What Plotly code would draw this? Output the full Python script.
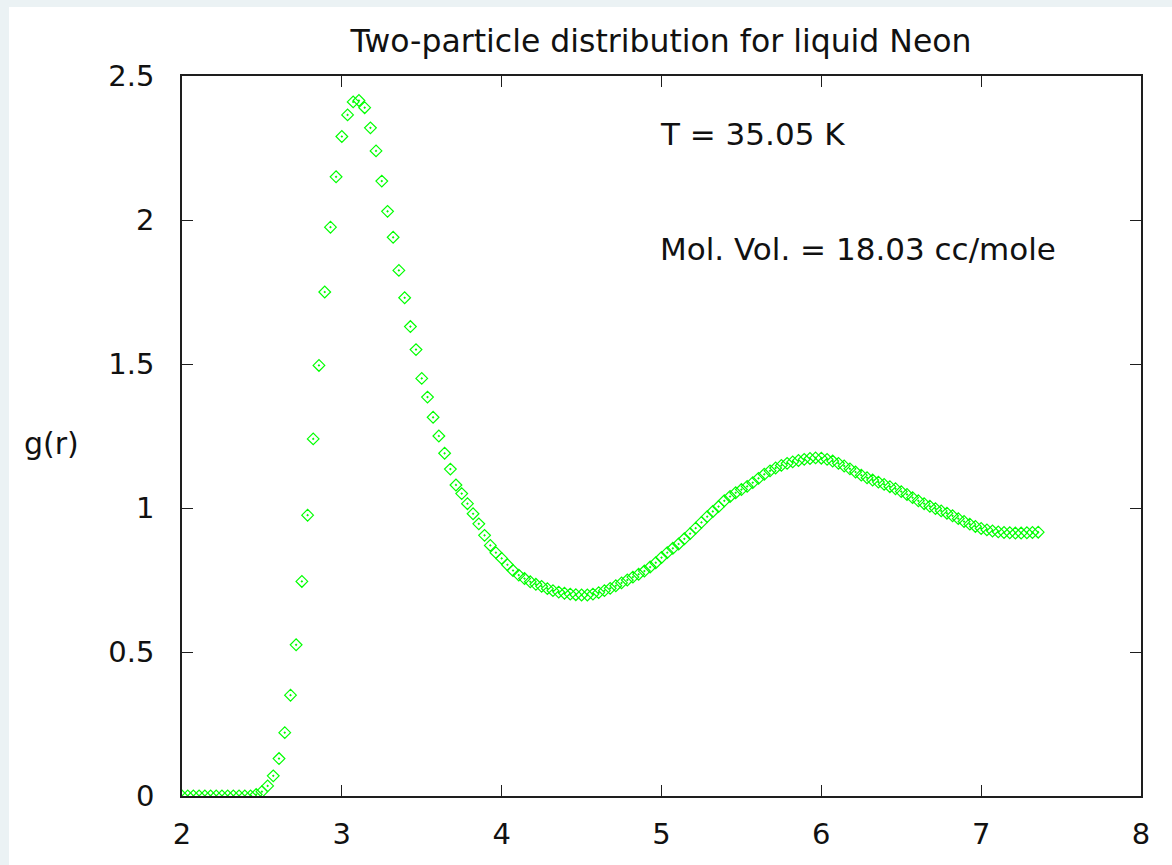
import plotly.graph_objects as go

# Radial distance r (Angstrom) and two-particle distribution g(r)
r_values = [
    2.000, 2.036, 2.071, 2.107, 2.143, 2.179, 2.214, 2.250, 2.286, 2.321, 2.357, 2.393, 2.429, 2.464,
    2.500, 2.536, 2.571, 2.607, 2.643, 2.679, 2.714, 2.750, 2.786, 2.821, 2.857, 2.893, 2.929, 2.964,
    3.000, 3.036, 3.071, 3.107, 3.143, 3.179, 3.214, 3.250, 3.286, 3.321, 3.357, 3.393, 3.429, 3.464,
    3.500, 3.536, 3.571, 3.607, 3.643, 3.679, 3.714, 3.750, 3.786, 3.821, 3.857, 3.893, 3.929, 3.964,
    4.000, 4.036, 4.071, 4.107, 4.143, 4.179, 4.214, 4.250, 4.286, 4.321, 4.357, 4.393, 4.429, 4.464,
    4.500, 4.536, 4.571, 4.607, 4.643, 4.679, 4.714, 4.750, 4.786, 4.821, 4.857, 4.893, 4.929, 4.964,
    5.000, 5.036, 5.071, 5.107, 5.143, 5.179, 5.214, 5.250, 5.286, 5.321, 5.357, 5.393, 5.429, 5.464,
    5.500, 5.536, 5.571, 5.607, 5.643, 5.679, 5.714, 5.750, 5.786, 5.821, 5.857, 5.893, 5.929, 5.964,
    6.000, 6.036, 6.071, 6.107, 6.143, 6.179, 6.214, 6.250, 6.286, 6.321, 6.357, 6.393, 6.429, 6.464,
    6.500, 6.536, 6.571, 6.607, 6.643, 6.679, 6.714, 6.750, 6.786, 6.821, 6.857, 6.893, 6.929, 6.964,
    7.000, 7.036, 7.071, 7.107, 7.143, 7.179, 7.214, 7.250, 7.286, 7.321, 7.357,
]

g_values = [
    0.000, 0.000, 0.000, 0.000, 0.000, 0.000, 0.000, 0.000, 0.000, 0.000, 0.000, 0.000, 0.000, 0.005,
    0.015, 0.035, 0.070, 0.130, 0.220, 0.350, 0.525, 0.745, 0.975, 1.240, 1.495, 1.750, 1.975, 2.150,
    2.290, 2.365, 2.410, 2.415, 2.390, 2.320, 2.240, 2.135, 2.030, 1.940, 1.825, 1.730, 1.630, 1.550,
    1.450, 1.385, 1.315, 1.250, 1.190, 1.135, 1.080, 1.050, 1.015, 0.980, 0.945, 0.905, 0.870, 0.845,
    0.825, 0.803, 0.783, 0.767, 0.755, 0.744, 0.735, 0.728, 0.720, 0.713, 0.708, 0.704, 0.701, 0.699,
    0.698, 0.698, 0.701, 0.706, 0.713, 0.721, 0.730, 0.740, 0.750, 0.760, 0.770, 0.781, 0.795, 0.810,
    0.828, 0.845, 0.860, 0.875, 0.893, 0.911, 0.930, 0.950, 0.970, 0.988, 1.005, 1.025, 1.040, 1.053,
    1.064, 1.075, 1.088, 1.103, 1.117, 1.129, 1.139, 1.148, 1.155, 1.160, 1.165, 1.169, 1.172, 1.174,
    1.173, 1.169, 1.163, 1.155, 1.146, 1.136, 1.125, 1.114, 1.105, 1.097, 1.090, 1.082, 1.074, 1.067,
    1.057, 1.047, 1.036, 1.025, 1.015, 1.006, 0.998, 0.990, 0.982, 0.973, 0.963, 0.953, 0.944, 0.936,
    0.929, 0.924, 0.920, 0.917, 0.915, 0.914, 0.913, 0.913, 0.914, 0.915, 0.916,
]

x_ticks = [2, 3, 4, 5, 6, 7, 8]
y_ticks = [0, 0.5, 1, 1.5, 2, 2.5]
y_tick_labels = ["0", "0.5", "1", "1.5", "2", "2.5"]

title_text = "Two-particle distribution for liquid Neon"
label_temp = "T = 35.05 K"
label_vol = "Mol. Vol. = 18.03 cc/mole"
y_label = "g(r)"

FONT = "DejaVu Sans"
AXIS_COLOR = "#1e1e1e"
TEXT_COLOR = "#111111"

fig = go.Figure()
fig.add_trace(go.Scatter(
    x=r_values, y=g_values, mode="markers",
    marker=dict(symbol="diamond-open-dot", size=9, color="#00ff00",
                line=dict(width=1.2, color="#00ff00")),
    showlegend=False, hoverinfo="x+y",
))

axis_common = dict(
    showline=True, linecolor=AXIS_COLOR, linewidth=1.6, mirror="ticks",
    ticks="inside", ticklen=11, tickwidth=1.4, tickcolor=AXIS_COLOR,
    showgrid=False, zeroline=False, automargin=False,
    tickfont=dict(family=FONT, size=29, color=TEXT_COLOR),
)

fig.update_xaxes(range=[2, 8], tickvals=x_ticks, ticklabelstandoff=11, **axis_common)
fig.update_yaxes(range=[0, 2.5], tickvals=y_ticks, ticktext=y_tick_labels,
                 ticklabelstandoff=20, **axis_common)

L, R, T, B = 182, 31, 76, 69
W, H = 1172, 865
pw, ph = W - L - R, H - T - B

fig.update_layout(
    template="none",
    width=W, height=H,
    margin=dict(l=L, r=R, t=T, b=B, pad=0, autoexpand=False),
    paper_bgcolor="#ebf2f4", plot_bgcolor="white",
    font=dict(family=FONT, color=TEXT_COLOR),
    title=dict(text=title_text, x=661 / W, xanchor="center",
               y=1 - 41 / H, yanchor="middle",
               font=dict(family=FONT, size=31.5, color=TEXT_COLOR)),
    shapes=[dict(type="rect", xref="paper", yref="paper", layer="below",
                 x0=(9 - L) / pw, x1=(W + 5 - L) / pw,
                 y0=(H - B - (H + 5)) / ph, y1=(H - B - 7) / ph,
                 fillcolor="white", line=dict(width=0))],
    annotations=[
        dict(text=label_temp, x=4.975, y=2.30, xref="x", yref="y", xanchor="left",
             yanchor="middle", showarrow=False, font=dict(family=FONT, size=31, color=TEXT_COLOR)),
        dict(text=label_vol, x=4.975, y=1.90, xref="x", yref="y", xanchor="left",
             yanchor="middle", showarrow=False, font=dict(family=FONT, size=31, color=TEXT_COLOR)),
        dict(text=y_label, x=(22 - L) / pw, y=(H - B - 443) / ph, xref="paper", yref="paper",
             xanchor="left", yanchor="middle", showarrow=False,
             font=dict(family=FONT, size=30, color=TEXT_COLOR)),
    ],
)

fig.write_html("out.html", config={"displayModeBar": False},
               post_script="document.body.style.margin='0';document.body.style.overflow='hidden';")
